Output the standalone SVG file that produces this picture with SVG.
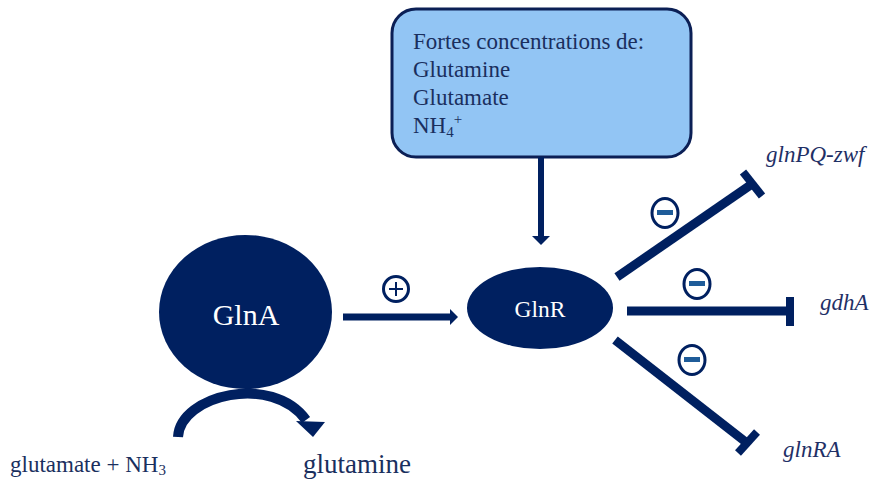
<svg xmlns="http://www.w3.org/2000/svg" width="872" height="480" viewBox="0 0 872 480" font-family="Liberation Serif">
<rect width="872" height="480" fill="#ffffff"/>
<g id="signal-box">
<rect x="392" y="9" width="299" height="148" rx="24" ry="24" fill="#92c5f4" stroke="#0b1f55" stroke-width="3"/>
<g font-size="23" fill="#1a2f5e" font-family="Liberation Serif">
<text x="413" y="49">Fortes concentrations de:</text>
<text x="413" y="77">Glutamine</text>
<text x="413" y="105">Glutamate</text>
<text x="413" y="133">NH<tspan font-size="15" dy="4">4</tspan><tspan font-size="15" dy="-13">+</tspan></text>
</g>
</g>
<g id="GlnA">
<ellipse cx="245.5" cy="312" rx="86.5" ry="77" fill="#002060"/>
<text font-family="Liberation Serif" x="246" y="325" font-size="30" fill="#ffffff" text-anchor="middle">GlnA</text>
</g>
<g id="GlnR">
<ellipse cx="540" cy="308" rx="73" ry="41" fill="#002060"/>
<text font-family="Liberation Serif" x="540" y="317" font-size="23.5" fill="#ffffff" text-anchor="middle">GlnR</text>
</g>
<g font-family="Liberation Serif" font-size="23" fill="#1f3066" font-style="italic">
<g id="glnPQ-zwf"><text x="766" y="162">glnPQ-zwf</text></g>
<g id="gdhA"><text x="820" y="310">gdhA</text></g>
<g id="glnRA"><text x="783" y="457">glnRA</text></g>
</g>
<g id="substrate"><text font-family="Liberation Serif" font-size="23" fill="#1a2f5e" x="10" y="472">glutamate + NH<tspan font-size="15" dy="3">3</tspan></text></g>
<g id="product"><text font-family="Liberation Serif" x="303" y="473" font-size="27" fill="#1a2f5e">glutamine</text></g>
<g id="connectors" fill="#002060" stroke="#002060">
<line x1="541" y1="157" x2="541" y2="237" stroke-width="6"/>
<polygon points="532,236 550,236 541,245" stroke="none"/>
<line x1="343" y1="317" x2="451" y2="317" stroke-width="7"/>
<polygon points="450,309 458,317 450,325" stroke="none"/>
<path d="M 178 437 C 180 395, 272 373, 306 420" stroke-width="10" fill="none"/>
<polygon points="296,421 325,422 313,437" stroke="none"/>
<g stroke-width="9" fill="none">
<line x1="617" y1="277" x2="752" y2="184"/>
<line x1="743" y1="172" x2="762" y2="196" stroke-width="8"/>
<line x1="627" y1="311" x2="789" y2="311"/>
<line x1="790" y1="297" x2="790" y2="326" stroke-width="8"/>
<line x1="615" y1="340" x2="747" y2="443"/>
<line x1="738" y1="453" x2="757" y2="432" stroke-width="8"/>
</g>
</g>
<g id="signs">
<g fill="#ffffff" stroke="#002060" stroke-width="3">
<circle cx="396" cy="289" r="12.5"/>
<ellipse cx="665" cy="213" rx="13" ry="14.5"/>
<ellipse cx="697" cy="284" rx="13" ry="14.5"/>
<ellipse cx="692" cy="360" rx="13" ry="14.5"/>
</g>
<path d="M 389 289 H 403 M 396 282 V 296" stroke="#002060" stroke-width="2" fill="none"/>
<g fill="#1f5c99">
<rect x="657" y="210" width="16" height="5"/>
<rect x="689" y="281" width="16" height="5"/>
<rect x="684" y="357" width="16" height="5"/>
</g>
</g>
</svg>
